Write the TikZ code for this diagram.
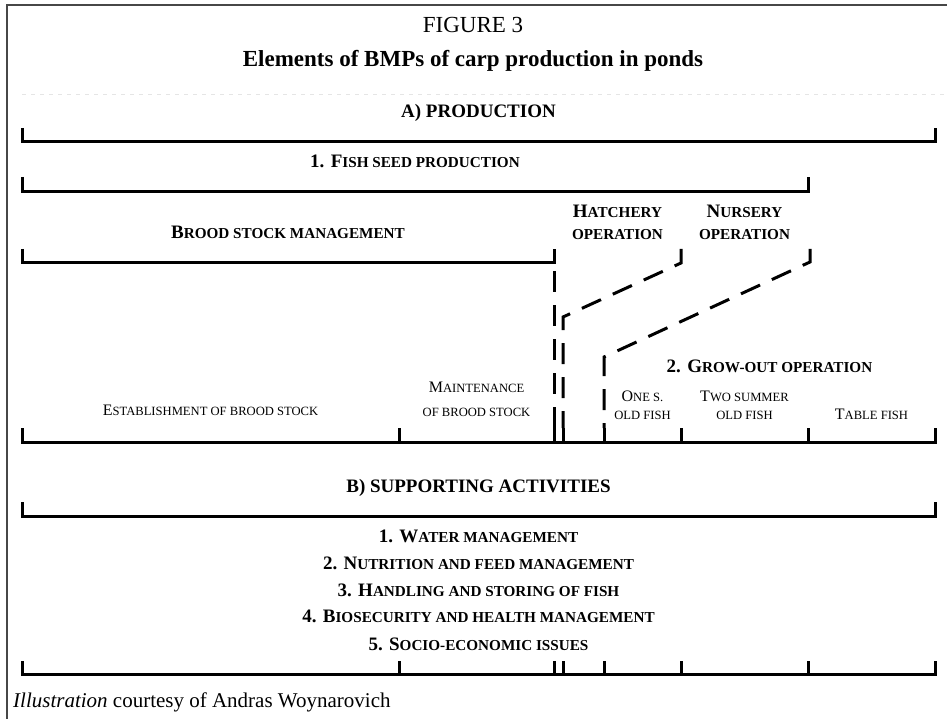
\documentclass[tikz,border=0pt]{standalone}
\usepackage{fontspec}
\setmainfont{Liberation Serif}
\newcommand\bsc[1]{{\fontsize{15.2}{16}\selectfont #1}}
\newcommand\rsc[1]{{\fontsize{12.6}{13}\selectfont #1}}
\tikzset{
  brk/.style={line width=3pt, line cap=butt, line join=miter},
  dsh/.style={line width=3pt, line cap=butt, line join=miter, dash pattern=on 21pt off 13pt},
  frameline/.style={line width=1.8pt, draw=black!72, line join=miter},
  hd/.style={anchor=base, inner sep=0pt, font=\fontsize{19}{19}\selectfont\bfseries},
  lb/.style={anchor=base, inner sep=0pt, font=\fontsize{16}{16}\selectfont},
}
\begin{document}
\begin{tikzpicture}[x=1pt,y=-1pt]
\useasboundingbox (0,0) rectangle (947,719);
% frame
\draw[frameline] (7,719) -- (7,5) -- (947,5);
\draw[gray!20, line width=1pt, dash pattern=on 4pt off 5pt] (22,95) -- (947,95);

% titles
\node[anchor=base, inner sep=0pt, font=\fontsize{23}{23}\selectfont] (fig) at (473,33) {FIGURE 3};
\node[anchor=base, inner sep=0pt, font=\fontsize{23}{23}\selectfont\bfseries] (ttl) at (473,67) {Elements of BMPs of carp production in ponds};

% A) production
\node[hd] (apr) at (478.5,118) {A) PRODUCTION};
\draw[brk] (22,128) -- (22,142) -- (935,142) -- (935,128);

\node[hd] (fsp) at (415,168) {1. F\bsc{ISH SEED PRODUCTION}};
\draw[brk] (22,177) -- (22,192) -- (808,192) -- (808,177);

\node[hd] (bsm) at (288,239) {B\bsc{ROOD STOCK MANAGEMENT}};
\draw[brk] (22,249) -- (22,263) -- (554,263) -- (554,249);

\node[hd] (hat1) at (617.5,218) {H\bsc{ATCHERY}};
\node[hd] (hat2) at (617.5,240) {\bsc{OPERATION}};
\node[hd] (nur1) at (744.5,218) {N\bsc{URSERY}};
\node[hd] (nur2) at (744.5,240) {\bsc{OPERATION}};

% named points for dashed connectors
\coordinate (brEnd) at (554,263);
\coordinate (hatTop) at (681,249);
\coordinate (hatBend) at (681,263);
\coordinate (hatLow) at (563,317);
\coordinate (nurTop) at (810,249);
\coordinate (nurBend) at (810,262);
\coordinate (nurLow) at (604,357);
\coordinate (gA) at (554,428);
\coordinate (gB) at (563,428);
\coordinate (gC) at (604,428);

\draw[dsh, dash phase=26pt] (brEnd) -- (gA);
\draw[dsh] (hatTop) -- (hatBend) -- (hatLow) -- (gB);
\draw[dsh] (nurTop) -- (nurBend) -- (nurLow) -- (gC);

\node[hd] (gro) at (769.5,372) {2. G\bsc{ROW-OUT OPERATION}};

\node[lb] (est) at (210.5,415) {E\rsc{STABLISHMENT OF BROOD STOCK}};
\node[lb] (mai1) at (476.5,392) {M\rsc{AINTENANCE}};
\node[lb] (mai2) at (476.5,416) {\rsc{OF BROOD STOCK}};
\node[lb] (one1) at (642.5,401) {O\rsc{NE S.}};
\node[lb] (one2) at (642.5,419) {\rsc{OLD FISH}};
\node[lb] (two1) at (744.5,401) {T\rsc{WO SUMMER}};
\node[lb] (two2) at (744.5,419) {\rsc{OLD FISH}};
\node[lb] (tab) at (871.5,419) {T\rsc{ABLE FISH}};

\draw[brk] (22,428) -- (22,442) -- (935,442) -- (935,428);
\foreach \x in {399,554,563,604,681,808} \draw[brk] (\x,428) -- (\x,442);

% B) supporting activities
\node[hd] (bsa) at (478.5,492) {B) SUPPORTING ACTIVITIES};
\draw[brk] (22,502) -- (22,516) -- (935,516) -- (935,502);

\node[hd] (it1) at (478.5,542) {1. W\bsc{ATER MANAGEMENT}};
\node[hd] (it2) at (478.5,569) {2. N\bsc{UTRITION AND FEED MANAGEMENT}};
\node[hd] (it3) at (478.5,596) {3. H\bsc{ANDLING AND STORING OF FISH}};
\node[hd] (it4) at (478.5,622) {4. B\bsc{IOSECURITY AND HEALTH MANAGEMENT}};
\node[hd] (it5) at (478.5,650) {5. S\bsc{OCIO-ECONOMIC ISSUES}};

\draw[brk] (22,661) -- (22,674) -- (935,674) -- (935,661);
\foreach \x in {399,554,563,604,681,808} \draw[brk] (\x,661) -- (\x,674);

\node[anchor=base west, inner sep=0pt, font=\fontsize{21}{21}\selectfont] (cap) at (13,707) {\textit{Illustration} courtesy of Andras Woynarovich};
\end{tikzpicture}
\end{document}
